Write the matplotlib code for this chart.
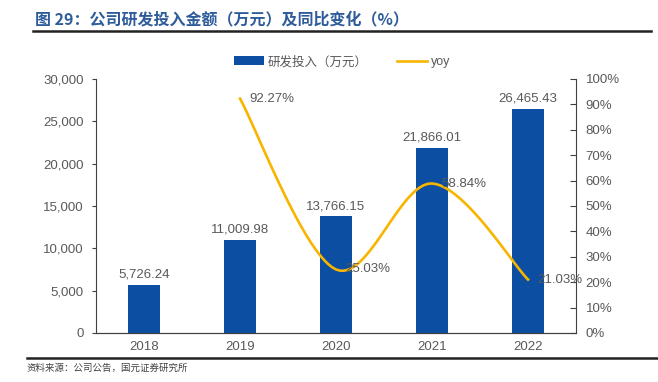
import numpy as np
import matplotlib
matplotlib.use("Agg")
import matplotlib.pyplot as plt
from matplotlib.ticker import FuncFormatter, MultipleLocator

plt.rcParams["font.family"] = ["Liberation Sans", "Noto Sans CJK SC", "DejaVu Sans"]

years = ["2018", "2019", "2020", "2021", "2022"]
rd_spend = [5726.24, 11009.98, 13766.15, 21866.01, 26465.43]
yoy_years_idx = [1, 2, 3, 4]
yoy = [92.27, 25.03, 58.84, 21.03]

BAR_COLOR = "#0B4EA2"
LINE_COLOR = "#F7B500"
TEXT_COLOR = "#595959"


def smooth(xs, ys, n=40):
    # Bezier smoothing like spreadsheet "smoothed line"
    xs = np.asarray(xs, float)
    ys = np.asarray(ys, float)
    P = np.column_stack([xs, ys])
    ext = np.vstack([P[0], P, P[-1]])
    out = []
    t = np.linspace(0, 1, n)[:, None]
    for i in range(len(P) - 1):
        p0, p1 = ext[i + 1], ext[i + 2]
        c1 = p0 + (ext[i + 2] - ext[i]) / 6
        c2 = p1 - (ext[i + 3] - ext[i + 1]) / 6
        seg = (1 - t) ** 3 * p0 + 3 * (1 - t) ** 2 * t * c1 + 3 * (1 - t) * t ** 2 * c2 + t ** 3 * p1
        out.append(seg)
    c = np.vstack(out)
    return c[:, 0], c[:, 1]


fig = plt.figure(figsize=(6.58, 3.82), dpi=100)
ax = fig.add_axes([0.1459, 0.1283, 0.7295, 0.6649])
ax2 = ax.twinx()

x = np.arange(len(years))
ax.bar(x, rd_spend, width=0.33, color=BAR_COLOR, label="研发投入（万元）", zorder=2)
for xi, v in zip(x, rd_spend):
    ax.text(xi, v + 500, f"{v:,.2f}", ha="center", va="bottom", fontsize=9.5, color=TEXT_COLOR)

ax.set_xlim(-0.5, 4.5)
ax.set_ylim(0, 30000)
ax.yaxis.set_major_locator(MultipleLocator(5000))
ax.yaxis.set_major_formatter(FuncFormatter(lambda v, p: f"{v:,.0f}"))
ax.set_xticks(x)
ax.set_xticklabels(years)

sx, sy = smooth(yoy_years_idx, yoy)
ax2.plot(sx, sy, color=LINE_COLOR, lw=1.9, label="yoy", zorder=3)
for xi, v in zip(yoy_years_idx, yoy):
    ax2.text(xi + 0.1, v, f"{v:.2f}%", ha="left", va="center", fontsize=9.5, color=TEXT_COLOR)
ax2.set_ylim(0, 100)
ax2.yaxis.set_major_locator(MultipleLocator(10))
ax2.yaxis.set_major_formatter(FuncFormatter(lambda v, p: f"{v:.0f}%"))

for a in (ax, ax2):
    a.spines["top"].set_visible(False)
    a.tick_params(colors="#404040", labelsize=9.5, labelcolor=TEXT_COLOR)
    for s in a.spines.values():
        s.set_color("#404040")
ax.spines["right"].set_visible(False)
ax2.spines["left"].set_visible(False)
ax.tick_params(axis="x", length=0, pad=6)
ax.tick_params(axis="y", length=3, direction="out", pad=6)
ax2.tick_params(axis="y", length=4, direction="in", pad=7)

h1, l1 = ax.get_legend_handles_labels()
h2, l2 = ax2.get_legend_handles_labels()
leg = fig.legend(h1 + h2, l1 + l2, loc="center", bbox_to_anchor=(0.52, 0.838), ncol=2,
                 frameon=False, fontsize=9, handlelength=2.4, handletextpad=0.3,
                 columnspacing=2.4, handleheight=0.75)
for t in leg.get_texts():
    t.set_color(TEXT_COLOR)

fig.text(0.053, 0.95, "图 29：公司研发投入金额（万元）及同比变化（%）", fontsize=11.5,
         fontweight="bold", color="#2E5C9A", family=["Noto Sans CJK SC", "DejaVu Sans"],
         va="center")
fig.add_artist(plt.Line2D([0.05, 0.99], [0.918, 0.918], color="#222222", lw=1.8))
fig.add_artist(plt.Line2D([0.041, 1.0], [0.063, 0.063], color="#222222", lw=1.8))
fig.text(0.041, 0.036, "资料来源：公司公告，国元证券研究所", fontsize=6.8, color="#404040",
         family=["Noto Sans CJK SC", "DejaVu Sans"], va="center")

fig.savefig("out.png", dpi=100)
